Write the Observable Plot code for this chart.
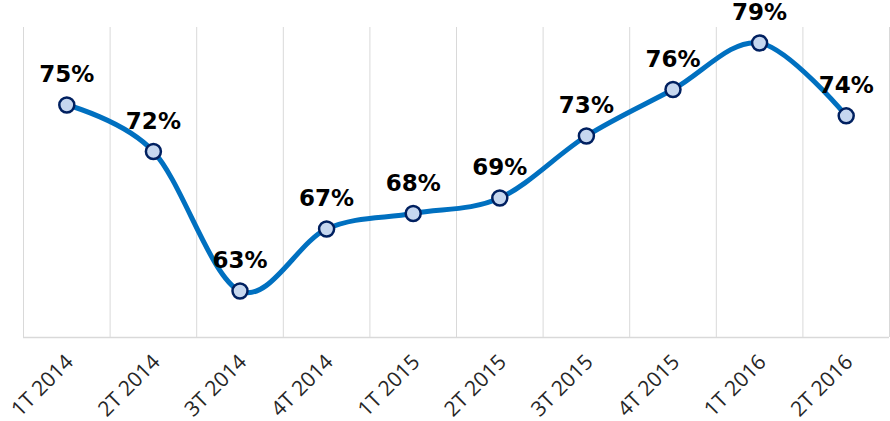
<!DOCTYPE html>
<html>
<head>
<meta charset="utf-8">
<script src="https://cdn.jsdelivr.net/npm/d3@7"></script>
<script src="https://cdn.jsdelivr.net/npm/@observablehq/plot@0.6"></script>
<style>
  html, body { margin: 0; padding: 0; background: #fff; }
</style>
</head>
<body>
<div id="chart"></div>
<script>
const categories = ["1T 2014", "2T 2014", "3T 2014", "4T 2014", "1T 2015", "2T 2015", "3T 2015", "4T 2015", "1T 2016", "2T 2016"];
const values = [75, 72, 63, 67, 68, 69, 73, 76, 79, 74.3];
const labels = ["75%", "72%", "63%", "67%", "68%", "69%", "73%", "76%", "79%", "74%"];

const data = categories.map((c, i) => ({i, cat: c, value: values[i], label: labels[i]}));
const idx = categories.map((_, i) => i);
const bounds = d3.range(categories.length + 1).map(i => i - 0.5);

const chart = Plot.plot({
  width: 890,
  height: 421,
  marginLeft: 23,
  marginRight: 1,
  marginTop: 27,
  marginBottom: 84,
  x: {domain: [-0.5, categories.length - 0.5]},
  y: {domain: [60, 80], axis: null},
  style: {background: "#fff", overflow: "visible"},
  marks: [
    Plot.ruleX(bounds, {x: d => d, y1: 60, y2: 80, stroke: "#d9d9d9", strokeWidth: 1}),
    Plot.ruleY([60], {stroke: "#d9d9d9", strokeWidth: 1.5}),
    Plot.axisX({
      ticks: idx,
      tickFormat: i => categories[i],
      tickRotate: -45,
      tickSize: 0,
      tickPadding: 21,
      dx: 3,
      fontSize: 21,
      fontFamily: "Open Sans",
      fill: "#262626",
      label: null
    }),
    Plot.line(data, {x: "i", y: "value", curve: "cardinal", stroke: "#0070c0", strokeWidth: 5}),
    Plot.dot(data, {x: "i", y: "value", r: 7.5, fill: "#c6d7ef", stroke: "#002060", strokeWidth: 2.5}),
    Plot.text(data, {x: "i", y: "value", text: "label", dy: -30, fontSize: 23, fontWeight: "bold", fontFamily: "DejaVu Sans", fill: "#000"})
  ]
});
document.getElementById("chart").appendChild(chart);
</script>
</body>
</html>
